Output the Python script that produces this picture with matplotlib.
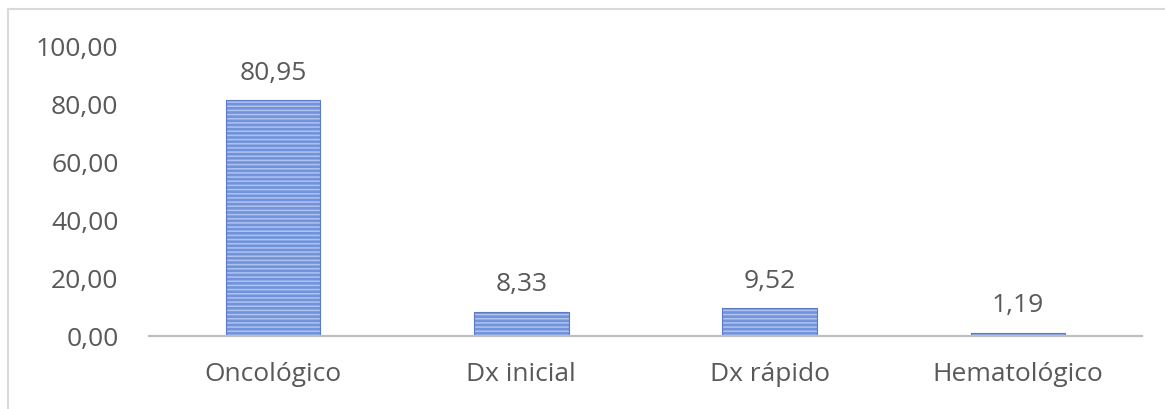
import matplotlib.pyplot as plt
from matplotlib.lines import Line2D

# Data
categories = ['Oncológico', 'Dx inicial', 'Dx rápido', 'Hematológico']
values = [80.95, 8.33, 9.52, 1.19]
yticks = [0, 20, 40, 60, 80, 100]

BAR_BLUE = '#7093DC'
STRIPE = '#B0C3EE'
EDGE = '#5A7AC6'
TEXT = '#595959'
FS = 19

plt.rcParams['font.family'] = ['Open Sans', 'DejaVu Sans']
plt.rcParams['hatch.linewidth'] = 1.1

fig = plt.figure(figsize=(11.65, 4.10), dpi=100)
ax = fig.add_axes([149 / 1165, 73 / 410, 993 / 1165, 291 / 410])

x = range(len(categories))
w = 0.38
ax.bar(x, values, width=w, color=BAR_BLUE, linewidth=0, zorder=2)
ax.bar(x, values, width=w, facecolor='none', edgecolor=STRIPE, hatch='----',
       linewidth=0, zorder=3)
ax.bar(x, values, width=w, facecolor='none', edgecolor=EDGE, linewidth=0.8, zorder=4)

for xi, v in zip(x, values):
    ax.annotate(f'{v:.2f}'.replace('.', ','), (xi, v), xytext=(0, 11),
                textcoords='offset points', ha='center', va='bottom',
                fontsize=FS, color=TEXT)

ax.set_xlim(-0.5, len(categories) - 0.5)
ax.set_ylim(0, 100)
ax.set_yticks(yticks)
ax.set_yticklabels([f'{t:.2f}'.replace('.', ',') for t in yticks])
ax.set_xticks(list(x))
ax.set_xticklabels(categories)
ax.tick_params(axis='y', length=0, pad=22, labelsize=FS, labelcolor=TEXT)
ax.tick_params(axis='x', length=0, pad=18, labelsize=FS, labelcolor=TEXT)

for s in ['top', 'right', 'left']:
    ax.spines[s].set_visible(False)
ax.spines['bottom'].set_color('#BFBFBF')
ax.spines['bottom'].set_linewidth(1.6)
ax.spines['bottom'].set_zorder(5)

# outer chart frame (top and left edges visible in the reference)
fig.add_artist(Line2D([8 / 1165, 1], [1 - 10 / 410, 1 - 10 / 410],
                      transform=fig.transFigure, color='#D9D9D9', lw=1.5))
fig.add_artist(Line2D([8 / 1165, 8 / 1165], [0, 1 - 10 / 410],
                      transform=fig.transFigure, color='#D9D9D9', lw=1.5))

fig.savefig('out.png', dpi=100, facecolor='white')
